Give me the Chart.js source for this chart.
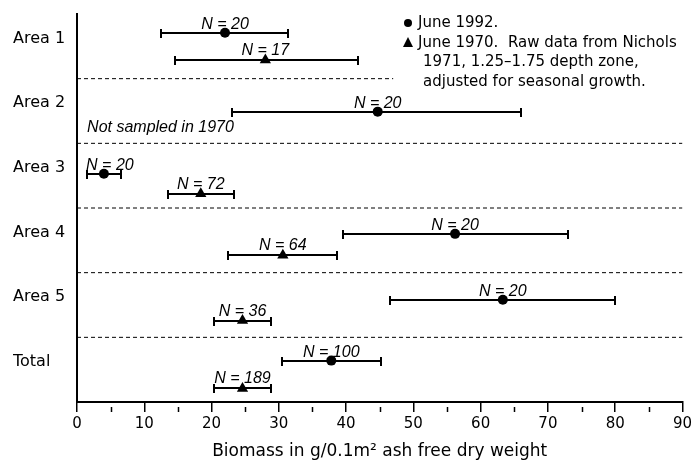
<!DOCTYPE html>
<html lang="en">
<head>
<meta charset="UTF-8">
<title>Biomass by area</title>
<script src="https://cdn.jsdelivr.net/npm/chart.js@4.4.1/dist/chart.umd.min.js"></script>
<style>
  html, body { margin: 0; padding: 0; background: #fff; }
  #wrap { width: 695px; height: 464px; }
</style>
</head>
<body>
<div id="wrap"><canvas id="myChart" width="695" height="464"></canvas></div>
<script>
var areas = ['Area 1', 'Area 2', 'Area 3', 'Area 4', 'Area 5', 'Total'];

// June 1992
var mean1992 = [22.0, 44.7, 4.0, 56.2, 63.3, 37.8];
var low1992  = [12.5, 23.0, 1.5, 39.5, 46.5, 30.4];
var high1992 = [31.4, 66.0, 6.5, 73.0, 79.9, 45.2];
var n1992    = [20, 20, 20, 20, 20, 100];

// June 1970 (Nichols 1971), area 2 not sampled
var mean1970 = [28.0, null, 18.4, 30.6, 24.6, 24.6];
var low1970  = [14.5, null, 13.5, 22.5, 20.3, 20.3];
var high1970 = [41.7, null, 23.4, 38.7, 28.9, 28.9];
var n1970    = [17, null, 72, 64, 36, 189];

var xMin = 0, xMax = 90, xStep = 10;

// layout: where each row sits inside its band
var row1992 = [0.29, 0.51, 0.47, 0.40, 0.42, 0.36];
var row1970 = [0.71, null, 0.78, 0.73, 0.74, 0.79];
var labelRow = 0.38;
var sepEnds = [47, 90, 90, 90, 90];

var FONT = '"DejaVu Sans", sans-serif';
var ITAL = '"Liberation Sans", Arial, sans-serif';

function pts(mean, row) {
    var out = [];
    for (var i = 0; i < areas.length; i++) {
        if (mean[i] == null) continue;
        out.push({x: mean[i], y: i + row[i]});
    }
    return out;
}

var datasets = [];
for (var s = 0; s < sepEnds.length; s++) {
    datasets.push({
        data: [{x: xMin, y: s + 1}, {x: sepEnds[s], y: s + 1}],
        showLine: true, borderColor: '#000', borderWidth: 1,
        borderDash: [4, 3], pointRadius: 0
    });
}
datasets.push({
    label: 'June 1992', data: pts(mean1992, row1992),
    pointStyle: 'circle', pointRadius: 5,
    backgroundColor: '#000', borderColor: '#000', borderWidth: 0
});
datasets.push({
    label: 'June 1970', data: pts(mean1970, row1970),
    pointStyle: 'triangle', pointRadius: 6.5,
    backgroundColor: '#000', borderColor: '#000', borderWidth: 0
});

var errorBars = {
    id: 'errorBars',
    beforeDatasetsDraw: function(chart) {
        var ctx = chart.ctx, xs = chart.scales.x, ys = chart.scales.y;
        function bar(lo, hi, yv) {
            var x1 = Math.round(xs.getPixelForValue(lo)), x2 = Math.round(xs.getPixelForValue(hi));
            var y = Math.round(ys.getPixelForValue(yv));
            ctx.beginPath();
            ctx.moveTo(x1, y); ctx.lineTo(x2, y);
            ctx.moveTo(x1, y - 4); ctx.lineTo(x1, y + 5);
            ctx.moveTo(x2, y - 4); ctx.lineTo(x2, y + 5);
            ctx.stroke();
        }
        ctx.save();
        ctx.strokeStyle = '#000';
        ctx.lineWidth = 2;
        for (var i = 0; i < areas.length; i++) {
            bar(low1992[i], high1992[i], i + row1992[i]);
            if (mean1970[i] != null) bar(low1970[i], high1970[i], i + row1970[i]);
        }
        ctx.restore();
    }
};

var annotations = {
    id: 'annotations',
    afterDraw: function(chart) {
        var ctx = chart.ctx, xs = chart.scales.x, ys = chart.scales.y;
        ctx.save();
        ctx.fillStyle = '#000';
        ctx.strokeStyle = '#000';

        // minor ticks on x axis
        ctx.lineWidth = 1.5;
        var yb = chart.chartArea.bottom;
        for (var v = xMin + xStep / 2; v < xMax; v += xStep) {
            var px = Math.round(xs.getPixelForValue(v)) + 0.5;
            ctx.beginPath();
            ctx.moveTo(px, yb + 5); ctx.lineTo(px, yb + 10);
            ctx.stroke();
        }

        // N = labels
        ctx.font = 'italic 16px ' + ITAL;
        ctx.textAlign = 'center';
        ctx.textBaseline = 'alphabetic';
        for (var i = 0; i < areas.length; i++) {
            var shift = i === 2 ? 6 : 0;
            ctx.fillText('N = ' + n1992[i], xs.getPixelForValue(mean1992[i]) + shift, ys.getPixelForValue(i + row1992[i]) - 4);
            if (n1970[i] != null) {
                ctx.fillText('N = ' + n1970[i], xs.getPixelForValue(mean1970[i]), ys.getPixelForValue(i + row1970[i]) - 5);
            }
        }

        ctx.textAlign = 'left';
        ctx.textBaseline = 'middle';
        ctx.fillText('Not sampled in 1970', xs.getPixelForValue(1.5), ys.getPixelForValue(1.76));

        // legend block
        ctx.font = '15px ' + FONT;
        ctx.beginPath();
        ctx.arc(408, 23, 4, 0, Math.PI * 2);
        ctx.fill();
        ctx.beginPath();
        ctx.moveTo(408, 37); ctx.lineTo(413, 47); ctx.lineTo(403, 47);
        ctx.closePath();
        ctx.fill();
        ctx.fillText('June 1992.', 418, 23);
        ctx.fillText('June 1970.  Raw data from Nichols', 418, 43);
        ctx.fillText('1971, 1.25\u20131.75 depth zone,', 423, 62);
        ctx.fillText('adjusted for seasonal growth.', 423, 82);
        ctx.restore();
    }
};

var ctx = document.getElementById('myChart').getContext('2d');
var chart = new Chart(ctx, {
    type: 'scatter',
    data: {datasets: datasets},
    plugins: [errorBars, annotations],
    options: {
        responsive: false,
        animation: false,
        events: [],
        layout: {padding: {left: 13, right: 12, top: 14, bottom: 0}},
        plugins: {legend: {display: false}, tooltip: {enabled: false}},
        scales: {
            x: {
                type: 'linear', position: 'bottom',
                min: xMin, max: xMax,
                ticks: {stepSize: xStep, color: '#000', padding: 3, maxRotation: 0,
                        font: {family: FONT, size: 15}},
                grid: {drawOnChartArea: false, drawTicks: true, tickLength: 10,
                       color: '#000', lineWidth: 1.5},
                border: {display: true, color: '#000', width: 2},
                title: {display: true, text: 'Biomass in g/0.1m\u00b2 ash free dry weight',
                        color: '#000', font: {family: FONT, size: 17},
                        padding: {top: 2, bottom: 2}},
                afterFit: function(s) { s.height = 62; }
            },
            y: {
                type: 'linear', position: 'left',
                min: 0, max: areas.length, reverse: true,
                afterBuildTicks: function(s) {
                    s.ticks = areas.map(function(a, i) { return {value: i + labelRow}; });
                },
                ticks: {
                    color: '#000', crossAlign: 'far',
                    font: {family: FONT, size: 16},
                    callback: function(v, i) { return areas[i]; }
                },
                grid: {display: false},
                border: {display: true, color: '#000', width: 2},
                afterFit: function(s) { s.width = 64; }
            }
        }
    }
});
</script>
</body>
</html>
